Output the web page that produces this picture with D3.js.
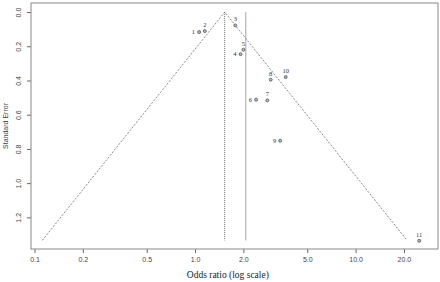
<!DOCTYPE html>
<html>
<head>
<meta charset="utf-8">
<script src="https://cdn.jsdelivr.net/npm/d3@7"></script>
<style>
  body { margin: 0; background: white; }
  .tick text { font-family: "Liberation Sans", Arial, sans-serif; font-size: 7px; fill: #444; }
</style>
</head>
<body>
<div id="container"></div>
<script>
/* CONSTANTS AND GLOBALS */
const width = 440;
const height = 282;
const margin = { top: 3, right: 2, bottom: 33, left: 31 };

/* DATA */
const studies = ["1", "2", "3", "4", "5", "6", "7", "8", "9", "10", "11"];
const oddsRatios = [1.06, 1.15, 1.78, 1.92, 2.0, 2.40, 2.82, 2.96, 3.39, 3.67, 24.9];
const stdErrors = [0.117, 0.111, 0.078, 0.246, 0.22, 0.512, 0.516, 0.395, 0.752, 0.380, 1.337];
const labelSide = ["left", "top", "top", "left", "top", "left", "top", "top", "left", "top", "top"];
const pooledOR = 1.53;
const refOR = 2.07;
const maxSE = 1.335;
const xTicks = [0.1, 0.2, 0.5, 1.0, 2.0, 5.0, 10.0, 20.0];
const yTicks = [0.0, 0.2, 0.4, 0.6, 0.8, 1.0, 1.2];

const data = studies.map((s, i) => ({ study: s, or: oddsRatios[i], se: stdErrors[i], side: labelSide[i] }));

const svg = d3.select("#container")
  .append("svg")
  .attr("width", width)
  .attr("height", height)
  .style("background-color", "white");

/* SCALES */
const xScale = d3.scaleLog()
  .domain([0.0951, 32.6])
  .range([margin.left, width - margin.right]);

const yScale = d3.scaleLinear()
  .domain([-0.053, 1.385])
  .range([margin.top, height - margin.bottom]);

/* AXES */
const xAxis = d3.axisBottom(xScale)
  .tickValues(xTicks)
  .tickFormat(d3.format(".1f"))
  .tickSize(4)
  .tickPadding(4);

svg.append("g")
  .attr("transform", `translate(0,${height - margin.bottom})`)
  .call(xAxis)
  .call(g => g.select(".domain").remove())
  .call(g => g.selectAll(".tick line").attr("stroke", "#666"));

const yAxis = d3.axisLeft(yScale)
  .tickValues(yTicks)
  .tickFormat(d3.format(".1f"))
  .tickSize(4);

svg.append("g")
  .attr("transform", `translate(${margin.left},0)`)
  .call(yAxis)
  .call(g => g.select(".domain").remove())
  .call(g => g.selectAll(".tick line").attr("stroke", "#666"))
  .call(g => g.selectAll(".tick text")
    .attr("transform", "rotate(-90)")
    .attr("text-anchor", "middle")
    .attr("x", 0)
    .attr("y", -10)
    .attr("dy", "0"));

// plot box
svg.append("rect")
  .attr("x", margin.left)
  .attr("y", margin.top)
  .attr("width", width - margin.left - margin.right)
  .attr("height", height - margin.top - margin.bottom)
  .attr("fill", "none")
  .attr("stroke", "#888")
  .attr("stroke-width", 1);

/* FUNNEL */
const half = 1.96 * maxSE;
const funnel = [
  [Math.exp(Math.log(pooledOR) - half), maxSE],
  [pooledOR, 0],
  [Math.exp(Math.log(pooledOR) + half), maxSE]
];

svg.append("path")
  .attr("d", d3.line().x(d => xScale(d[0])).y(d => yScale(d[1]))(funnel))
  .attr("fill", "none")
  .attr("stroke", "#555")
  .attr("stroke-width", 0.7)
  .attr("stroke-dasharray", "2,1.5");

// pooled estimate (dotted) and reference line (solid)
svg.append("line")
  .attr("x1", xScale(pooledOR)).attr("x2", xScale(pooledOR))
  .attr("y1", yScale(0)).attr("y2", yScale(maxSE))
  .attr("stroke", "#444")
  .attr("stroke-width", 0.8)
  .attr("stroke-dasharray", "1,1");

svg.append("line")
  .attr("x1", xScale(refOR)).attr("x2", xScale(refOR))
  .attr("y1", yScale(0)).attr("y2", yScale(maxSE))
  .attr("stroke", "#999")
  .attr("stroke-width", 0.9);

/* POINTS */
svg.selectAll(".pt")
  .data(data)
  .join("circle")
  .attr("class", "pt")
  .attr("cx", d => xScale(d.or))
  .attr("cy", d => yScale(d.se))
  .attr("r", 1.5)
  .attr("fill", "#bbb")
  .attr("stroke", "#444")
  .attr("stroke-width", 0.7);

svg.selectAll(".lbl")
  .data(data)
  .join("text")
  .attr("class", "lbl")
  .attr("x", d => xScale(d.or) + (d.side === "left" ? -4 : 0))
  .attr("y", d => yScale(d.se) + (d.side === "left" ? 2.2 : -4))
  .attr("text-anchor", d => d.side === "left" ? "end" : "middle")
  .style("font-family", "'Liberation Serif', 'Times New Roman', serif")
  .style("font-size", "6.5px")
  .style("fill", "#333")
  .text(d => d.study);

/* LABELS */
svg.append("text")
  .attr("x", xScale(1.6))
  .attr("y", 278)
  .attr("text-anchor", "middle")
  .style("font-family", "'Liberation Serif', 'Times New Roman', serif")
  .style("font-size", "9.5px")
  .style("fill", "#222")
  .text("Odds ratio (log scale)");

svg.append("text")
  .attr("transform", `translate(8,${(margin.top + height - margin.bottom) / 2}) rotate(-90)`)
  .attr("text-anchor", "middle")
  .style("font-family", "'Liberation Sans', Arial, sans-serif")
  .style("font-size", "7px")
  .style("fill", "#444")
  .text("Standard Error");
</script>
</body>
</html>
